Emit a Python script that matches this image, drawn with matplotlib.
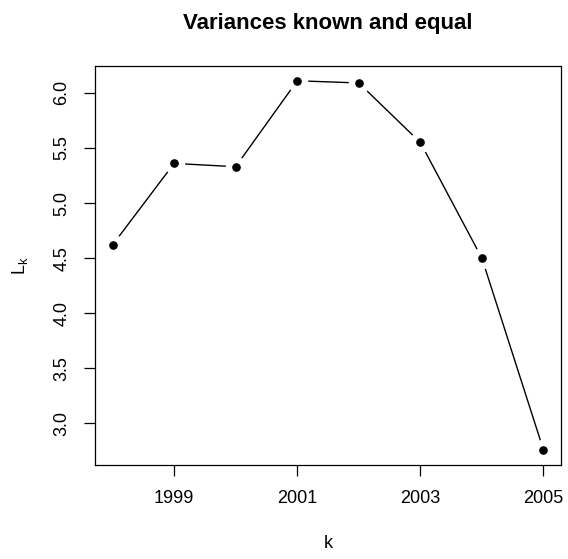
import matplotlib
matplotlib.use("Agg")
import matplotlib.pyplot as plt
import numpy as np

# Data
years = [1998, 1999, 2000, 2001, 2002, 2003, 2004, 2005]
L_k = [4.62, 5.36, 5.33, 6.11, 6.09, 5.55, 4.50, 2.76]
x_ticks = [1999, 2001, 2003, 2005]
y_ticks = [3.0, 3.5, 4.0, 4.5, 5.0, 5.5, 6.0]
title = "Variances known and equal"

plt.rcParams['font.family'] = ['Liberation Sans', 'DejaVu Sans']
plt.rcParams['mathtext.fontset'] = 'custom'
plt.rcParams['mathtext.rm'] = 'Liberation Sans'
plt.rcParams['mathtext.it'] = 'Liberation Sans'

W, H = 568, 559
fig = plt.figure(figsize=(W / 100, H / 100), dpi=100)
left, right, top, bottom = 95.3, 560.7, 66, 464.7
ax = fig.add_axes([left / W, 1 - bottom / H, (right - left) / W, (bottom - top) / H])

# R-style axis ranges (4% padding)
xr = max(years) - min(years)
yr = max(L_k) - min(L_k)
ax.set_xlim(min(years) - 0.04 * xr, max(years) + 0.04 * xr)
ax.set_ylim(min(L_k) - 0.04 * yr, max(L_k) + 0.04 * yr)

# "both" style: line with gaps around each point
ax.plot(years, L_k, color='black', lw=1.0, zorder=1)
ax.plot(years, L_k, linestyle='none', marker='o', markersize=15.5,
        markerfacecolor='white', markeredgecolor='none', zorder=2)
ax.plot(years, L_k, linestyle='none', marker='o', markersize=5.2,
        markerfacecolor='black', markeredgecolor='black', zorder=3)

ax.set_xticks(x_ticks)
ax.set_xticklabels([str(t) for t in x_ticks])
ax.set_yticks(y_ticks)
ax.set_yticklabels([f"{t:.1f}" for t in y_ticks], rotation=90, va='center')
ax.tick_params(axis='both', direction='out', length=8, width=0.9,
               labelsize=13, pad=10, color='black')
for s in ax.spines.values():
    s.set_linewidth(0.9)

fig.text(0.5 * (left + right) / W, 1 - 29.3 / H, title, ha='center', va='baseline',
         fontsize=16, fontweight='bold')
fig.text(0.5 * (left + right) / W, 1 - 543 / H, "k", ha='center', va='center',
         fontsize=13)
fig.text(20 / W, 1 - 266 / H, r"$\mathrm{L_k}$", ha='center', va='center',
         fontsize=13, rotation=90)

fig.savefig("out.png", dpi=100)
